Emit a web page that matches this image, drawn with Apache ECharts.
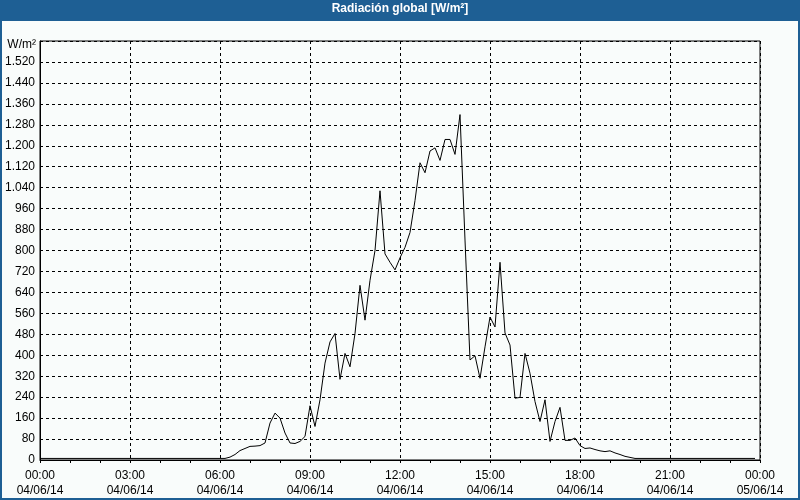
<!DOCTYPE html>
<html>
<head>
<meta charset="utf-8">
<script src="https://cdn.jsdelivr.net/npm/echarts@6/dist/echarts.min.js"></script>
<style>html,body{margin:0;padding:0;background:#f9fcfb;}#c{width:800px;height:500px;}</style>
</head>
<body>
<div id="c"></div>
<script>
// 10-minute samples from 00:00 to 23:50 on 04/06/14 (W/m²)
var stepMinutes = 10;
var radiation = [
  6,6,6,6,6,6,6,6,6,6,6,6,            // 00:00-01:50
  6,6,6,6,6,6,6,6,6,6,6,6,            // 02:00-03:50
  6,6,6,6,6,6,6,6,6,6,6,6,            // 04:00-05:50
  6,6,11,21,36,44,52,53,55,65,141,179, // 06:00-07:50
  160,103,65,63,71,90,207,128,230,370,451,483, // 08:00-09:50
  308,407,356,483,667,534,686,800,1028,787,755,726, // 10:00-11:50
  772,812,869,991,1135,1097,1180,1192,1144,1224,1224,1167, // 12:00-13:50
  1319,840,382,398,312,432,546,508,755,485,439,236, // 14:00-15:50
  239,407,331,223,147,230,71,147,201,75,75,84, // 16:00-17:50
  55,44,46,40,35,32,35,27,21,14,10,6, // 18:00-19:50
  6,6,6,6,6,6,6,6,6,6,6,6,            // 20:00-21:50
  6,6,6,6,6,6,6,6,6,6,6,6             // 22:00-23:50
];
var xTickLabels = ['00:00\n04/06/14','03:00\n04/06/14','06:00\n04/06/14','09:00\n04/06/14','12:00\n04/06/14','15:00\n04/06/14','18:00\n04/06/14','21:00\n04/06/14','00:00\n05/06/14'];
var yTickLabels = ['0','80','160','240','320','400','480','560','640','720','800','880','960','1.040','1.120','1.200','1.280','1.360','1.440','1.520',''];
var titleText = 'Radiación global [W/m²]';
var unitText = 'W/m²';

var seriesData = radiation.map(function (v, i) { return [i * stepMinutes, v]; });
var font = 'Liberation Sans';
var chart = echarts.init(document.getElementById('c'), null, {renderer: 'canvas'});
chart.setOption({
  animation: false,
  backgroundColor: '#f9fcfb',
  title: {
    text: titleText,
    left: 'center',
    top: 3,
    padding: 0,
    textStyle: {color: '#ffffff', fontWeight: 'bold', fontSize: 12, fontFamily: font}
  },
  graphic: [
    {type: 'rect', z: 0, shape: {x: 0, y: 0, width: 800, height: 21}, style: {fill: '#1e5f94'}},
    {type: 'rect', z: 0, shape: {x: 1, y: 1, width: 798, height: 498}, style: {fill: 'none', stroke: '#1e5f94', lineWidth: 2}}
  ],
  grid: {left: 40, right: 40, top: 41, bottom: 40, show: true, borderColor: '#000', borderWidth: 1, backgroundColor: 'transparent'},
  xAxis: {
    type: 'value', min: 0, max: 1440, interval: 180,
    axisLine: {show: true, lineStyle: {color: '#000', width: 1}},
    axisTick: {show: true, length: 3, lineStyle: {color: '#000'}},
    minorTick: {show: true, splitNumber: 3, length: 3, lineStyle: {color: '#000'}},
    axisLabel: {
      color: '#000', fontSize: 12, fontFamily: font, lineHeight: 15, margin: 8,
      formatter: function (v) { return xTickLabels[Math.round(v / 180)]; }
    },
    splitLine: {show: true, lineStyle: {color: '#000', type: [3, 3], width: 1}}
  },
  yAxis: {
    type: 'value', min: 0, max: 1600, interval: 80,
    name: unitText, nameLocation: 'end', nameGap: -4,
    nameTextStyle: {color: '#000', fontSize: 12, fontFamily: font, align: 'right', verticalAlign: 'middle', padding: [0, 4, 0, 0]},
    axisLine: {show: true, lineStyle: {color: '#000', width: 1}},
    axisTick: {show: false},
    axisLabel: {
      color: '#000', fontSize: 12, fontFamily: font, margin: 5,
      formatter: function (v) { return yTickLabels[Math.round(v / 80)]; }
    },
    splitLine: {show: true, lineStyle: {color: '#000', type: [3, 3], width: 1}}
  },
  series: [{
    type: 'line',
    data: seriesData,
    showSymbol: false,
    symbol: 'none',
    smooth: false,
    lineStyle: {color: '#000', width: 1},
    z: 3
  }]
});
</script>
</body>
</html>
